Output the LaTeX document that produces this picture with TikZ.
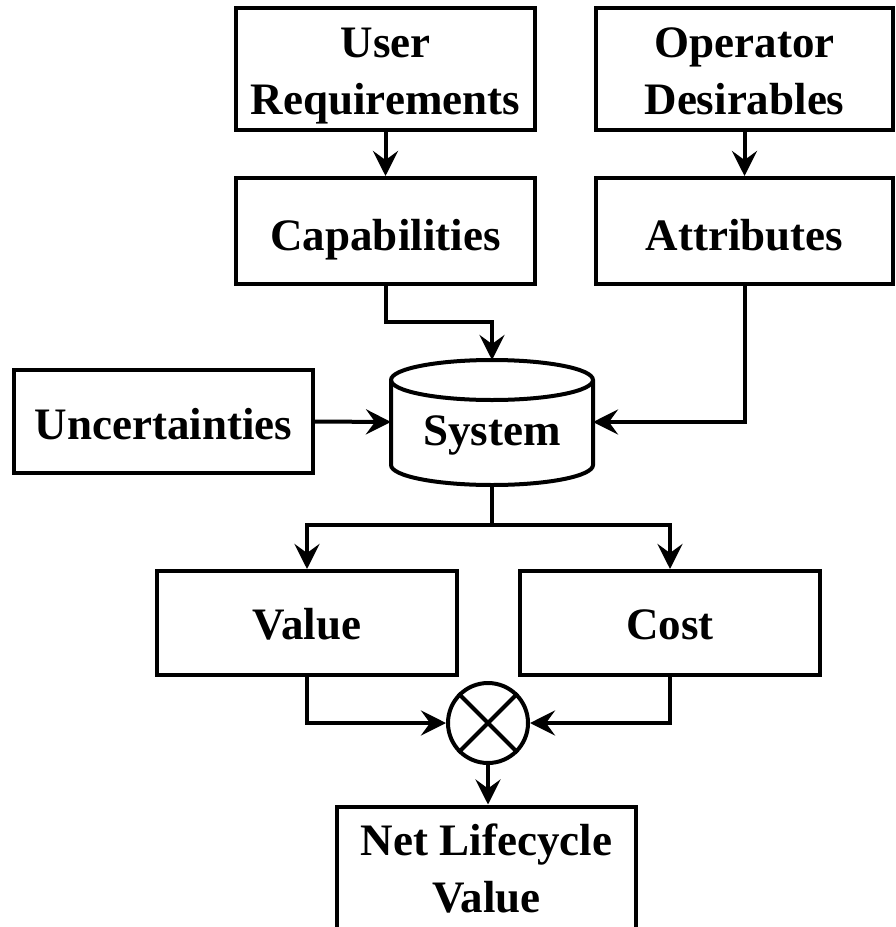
\documentclass[tikz,border=0pt]{standalone}
\usepackage{fontspec}
\setmainfont{Liberation Serif}
\usetikzlibrary{arrows.meta}
\begin{document}
\begin{tikzpicture}[x=1pt,y=-1pt, line width=4pt,
  box/.style={draw, line width=4pt, minimum width=299pt, inner sep=0pt, fill=white},
  txt/.style={inner sep=0pt, anchor=base, font=\fontsize{45}{55}\selectfont\bfseries},
  arr/.style={-{Stealth[length=25pt,width=25pt,inset=9pt]}, line width=4pt, line join=miter}]
\clip (0,0) rectangle (895,927);
% top row
\node[box, minimum height=122pt] (ur) at (385.5,69) {};
\node[txt] (urt1) at (385.5,57) {User};
\node[txt] (urt2) at (385.5,114) {Requirements};
\node[box, minimum height=122pt, minimum width=297pt] (od) at (744.5,69) {};
\node[txt] (odt1) at (744.5,57) {Operator};
\node[txt] (odt2) at (744.5,114) {Desirables};
\node[box, minimum height=106pt] (cap) at (385.5,231) {};
\node[txt] (capt) at (385.5,250) {Capabilities};
\node[box, minimum height=106pt, minimum width=297pt] (attr) at (744.5,231) {};
\node[txt] (attrt) at (744.5,250) {Attributes};
\node[box, minimum height=103pt] (unc) at (163.5,421.5) {};
\node[txt] (unct) at (163.5,439) {Uncertainties};
% cylinder
\draw[fill=white] (391,380) -- (391,465) arc[start angle=180,end angle=0,x radius=101,y radius=20]
  -- (593,380) arc[start angle=0,end angle=-180,x radius=101,y radius=20] -- cycle;
\draw (391,380) arc[start angle=180,end angle=0,x radius=101,y radius=20];
\node[txt] (sys) at (492,445) {System};
\coordinate (syst) at (492,360);
\coordinate (sysb) at (492,485);
\coordinate (sysl) at (391,422);
\coordinate (sysr) at (593,422);
\coordinate (split) at (492,525);
% lower row
\node[box, minimum height=104pt, minimum width=300pt] (val) at (307,623) {};
\node[txt] (valt) at (307,639) {Value};
\node[box, minimum height=104pt, minimum width=300pt] (cost) at (670,623) {};
\node[txt] (costt) at (670,639) {Cost};
\node[draw, circle, minimum size=80pt, inner sep=0pt] (mul) at (488,723) {};
\draw (mul.north west) -- (mul.south east);
\draw (mul.north east) -- (mul.south west);
\node[box, minimum height=145pt] (net) at (486.5,879) {};
\node[txt] (nett1) at (486.5,855) {Net Lifecycle};
\node[txt] (nett2) at (486.5,912) {Value};
% connectors
\draw[arr] (ur.south) -- (cap.north);
\draw[arr] (od.south) -- (attr.north);
\draw[arr] (cap.south) -- ++(0,36) -| (syst);
\draw[arr] (attr.south) |- (sysr);
\draw[arr] (unc.east) -- (sysl);
\draw (sysb) -- (split);
\draw[arr] (split) -| (val.north);
\draw[arr] (split) -| (cost.north);
\draw[arr] (val.south) |- (mul.west);
\draw[arr] (cost.south) |- (mul.east);
\draw[arr] (mul.south) -- (mul.south |- net.north);
\end{tikzpicture}
\end{document}
